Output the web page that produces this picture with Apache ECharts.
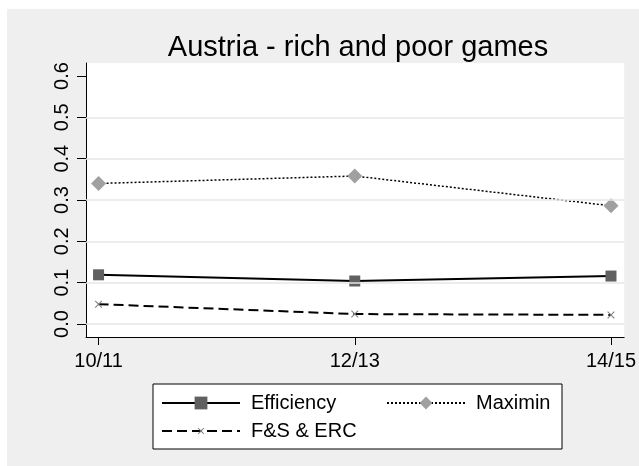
<!DOCTYPE html>
<html>
<head>
<meta charset="utf-8">
<script src="https://cdn.jsdelivr.net/npm/echarts@6/dist/echarts.min.js"></script>
<style>
  html, body { margin: 0; padding: 0; background: #fff; }
  #chart { width: 639px; height: 466px; }
</style>
</head>
<body>
<div id="chart"></div>
<script>
const seasons = ["10/11", "12/13", "14/15"];
const seasonPos = [0, 1, 2];
const efficiency = [0.119, 0.104, 0.116];
const maximin = [0.340, 0.358, 0.286];
const fsErc = [0.048, 0.024, 0.022];
const yTicks = [0, 0.1, 0.2, 0.3, 0.4, 0.5, 0.6];
const gridVals = [0, 0.1, 0.2, 0.3, 0.4, 0.5];

const FONT = "Liberation Sans, Arial, sans-serif";
// small x with empty room around it (corner specks keep the box 20x20)
const crossPath = "path://M0,0L0.01,0L0,0.01Z M20,20L19.99,20L20,19.99Z " +
  "M5,6L6,5L10,9L14,5L15,6L11,10L15,14L14,15L10,11L6,15L5,14L9,10Z";

const pairs = (vals) => vals.map((v, i) => [seasonPos[i], v]);

const chart = echarts.init(document.getElementById("chart"), null, { renderer: "canvas" });

const legendText = { fontFamily: FONT, fontSize: 20, color: "#000", lineHeight: 20, padding: [0, 0, 0, 6] };

const option = {
  animation: false,
  backgroundColor: "#ffffff",
  graphic: [
    {
      type: "rect", z: -10, silent: true,
      shape: { x: 7, y: 9, width: 640, height: 460 },
      style: { fill: "#efefef" }
    },
    {
      type: "rect", z: 0, silent: true,
      shape: { x: 153, y: 384, width: 409, height: 65 },
      style: { fill: "#ffffff", stroke: "#000", lineWidth: 1 }
    }
  ],
  title: {
    text: "Austria - rich and poor games",
    left: 353,
    textAlign: "center",
    top: 28,
    textStyle: { fontFamily: FONT, fontSize: 29, fontWeight: "normal", color: "#000" }
  },
  grid: {
    left: 86, top: 63, right: 9, bottom: 129,
    show: true, backgroundColor: "#ffffff", borderWidth: 0
  },
  xAxis: {
    type: "value",
    min: -0.049,
    max: 2.0514,
    axisLine: { show: true, onZero: false, lineStyle: { color: "#000", width: 1 } },
    axisTick: { show: true, length: 8, customValues: seasonPos, lineStyle: { color: "#000" } },
    axisLabel: {
      customValues: seasonPos,
      formatter: (v) => seasons[Math.round(v)],
      fontFamily: FONT, fontSize: 20, color: "#000", margin: 14
    },
    splitLine: { show: false }
  },
  yAxis: {
    type: "value",
    min: -0.0315,
    max: 0.6315,
    axisLine: { show: true, onZero: false, lineStyle: { color: "#000", width: 1 } },
    axisTick: { show: true, length: 9, customValues: yTicks, lineStyle: { color: "#000" } },
    axisLabel: {
      customValues: yTicks,
      rotate: 90,
      formatter: (v) => v.toFixed(1),
      fontFamily: FONT, fontSize: 20, color: "#000", margin: 14
    },
    splitLine: { show: false }
  },
  legend: [
    {
      orient: "vertical",
      left: 161, top: 393,
      padding: 0,
      itemWidth: 78, itemHeight: 16, itemGap: 8,
      data: ["Efficiency", "F&S & ERC"],
      textStyle: legendText
    },
    {
      orient: "vertical",
      left: 386, top: 393,
      padding: 0,
      itemWidth: 78, itemHeight: 16, itemGap: 8,
      data: ["Maximin"],
      textStyle: legendText
    }
  ],
  series: [
    {
      name: "Efficiency",
      type: "line",
      data: pairs(efficiency),
      symbol: "rect", symbolSize: 11,
      itemStyle: { color: "#606060" },
      lineStyle: { color: "#000", width: 2, type: "solid" },
      z: 3,
      markLine: {
        silent: true,
        symbol: "none",
        label: { show: false },
        lineStyle: { color: "#e6e6e6", width: 1.5, type: "solid" },
        data: gridVals.map((v) => ({ yAxis: v }))
      }
    },
    {
      name: "Maximin",
      type: "line",
      data: pairs(maximin),
      symbol: "diamond", symbolSize: 15,
      itemStyle: { color: "#a0a0a0" },
      lineStyle: { color: "#000", width: 1.5, type: [2, 2] },
      z: 3
    },
    {
      name: "F&S & ERC",
      type: "line",
      data: pairs(fsErc),
      symbol: crossPath, symbolSize: 15,
      itemStyle: { color: "#808080" },
      lineStyle: { color: "#000", width: 2, type: [10, 5] },
      z: 3
    }
  ]
};

chart.setOption(option);
</script>
</body>
</html>
